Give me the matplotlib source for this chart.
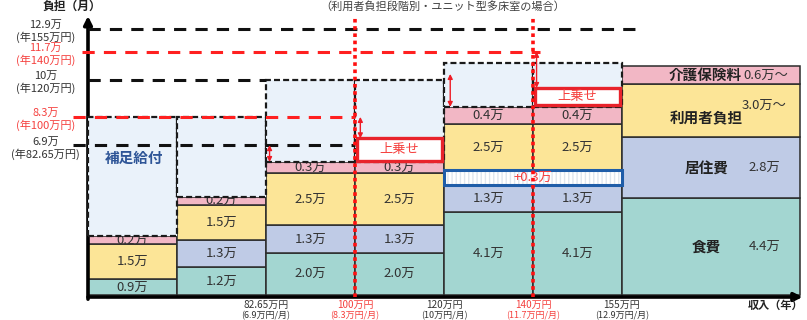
import matplotlib
matplotlib.use("Agg")
import matplotlib.pyplot as plt
from matplotlib.patches import Rectangle, FancyArrowPatch

plt.rcParams['font.family'] = ['Noto Sans CJK JP', 'DejaVu Sans']

# 金額ラベル（月額）
food_labels = ['0.9万', '1.2万', '2.0万', '2.0万', '4.1万', '4.1万', '4.4万']
room_labels = ['', '1.3万', '1.3万', '1.3万', '1.3万', '1.3万', '2.8万']
user_labels = ['1.5万', '1.5万', '2.5万', '2.5万', '2.5万', '2.5万', '3.0万～']
ins_labels = ['0.2万', '0.2万', '0.3万', '0.3万', '0.4万', '0.4万', '0.6万～']
seg_names = ['食費', '居住費', '利用者負担', '介護保険料']

# 図上の高さ（模式図なので見た目から読んだ値）
food_h = [0.73, 1.28, 1.93, 1.93, 3.82, 3.82, 4.46]
room_h = [0, 1.25, 1.29, 1.29, 1.24, 1.24, 2.81]
plus_h = [0, 0, 0, 0, 0.69, 0.69, 0]
user_h = [1.6, 1.6, 2.39, 2.39, 2.12, 2.12, 2.45]
ins_h = [0.4, 0.4, 0.51, 0.51, 0.79, 0.79, 0.83]
uwanose_h = [0, 0, 0, 1.02, 0, 0.8, 0]
hosoku_top = [8.3, 8.3, 10.0, 10.0, 10.78, 10.78, 0]

# 基準線
line_y = [12.35, 11.3, 10.0, 8.3, 7.0]
line_main = ['12.9万', '11.7万', '10万', '8.3万', '6.9万']
line_sub = ['(年155万円)', '(年140万円)', '(年120万円)', '(年100万円)', '(年82.65万円)']
line_red = [False, True, False, True, False]

# 収入の目盛
income_main = ['82.65万円', '100万円', '120万円', '140万円', '155万円']
income_sub = ['(6.9万円/月)', '(8.3万円/月)', '(10万円/月)', '(11.7万円/月)', '(12.9万円/月)']
income_red = [False, True, False, True, False]

edges = [0, 1, 2, 3, 4, 5, 6, 8]
base = 0.1
RED = '#FF2020'
RED_TXT = '#F5413F'
DARK = '#333333'
colors = {'food': '#A3D6D1', 'room': '#BFCBE6', 'user': '#FCE597', 'ins': '#F2B7C5'}

fig = plt.figure(figsize=(8.07, 3.2), dpi=100)
ax = fig.add_axes([0, 0, 1, 1])
ax.set_xlim(-88 / 89, 719 / 89)
ax.set_ylim(-23 / 21.7, 297 / 21.7)
ax.axis('off')

layers = [('food', food_h, food_labels), ('room', room_h, room_labels),
          ('plus', plus_h, None), ('user', user_h, user_labels), ('ins', ins_h, ins_labels)]
tops = []
mids = []
for i in range(7):
    x0, x1 = edges[i], edges[i + 1]
    y = base
    m = []
    for key, hs, labels in layers:
        h = hs[i]
        if h > 0 and key != 'plus':
            ax.add_patch(Rectangle((x0, y), x1 - x0, h, fc=colors[key], ec='#2b2b2b', lw=1.1, zorder=2))
            if i < 6:
                ax.text((x0 + x1) / 2, y + h / 2, labels[i], ha='center', va='center',
                        fontsize=9.5, color=DARK, zorder=3)
        if key != 'plus':
            m.append(y + h / 2)
        y += h
    tops.append(y)
    mids.append(m)

# 一番右の列（基準費用）
x_name = 6.95
x_val = 7.6
ax.text(x_name, mids[6][0], seg_names[0], ha='center', va='center', fontsize=10.5, weight='bold', color='#222', zorder=3)
ax.text(x_val, mids[6][0], food_labels[6], ha='center', va='center', fontsize=9.5, color=DARK, zorder=3)
ax.text(x_name, mids[6][1], seg_names[1], ha='center', va='center', fontsize=10.5, weight='bold', color='#222', zorder=3)
ax.text(x_val, mids[6][1], room_labels[6], ha='center', va='center', fontsize=9.5, color=DARK, zorder=3)
ax.text(x_name, mids[6][2] - 0.35, seg_names[2], ha='center', va='center', fontsize=10.5, weight='bold', color='#222', zorder=3)
ax.text(x_val, mids[6][2] + 0.25, user_labels[6], ha='center', va='center', fontsize=9.5, color=DARK, zorder=3)
ax.text(x_name - 0.02, mids[6][3], seg_names[3], ha='center', va='center', fontsize=10.5, weight='bold', color='#222', zorder=3)
ax.text(x_val + 0.02, mids[6][3], ins_labels[6], ha='center', va='center', fontsize=9.5, color=DARK, zorder=3)

# 補足給付の枠
for i in range(6):
    if hosoku_top[i] > 0:
        ax.add_patch(Rectangle((edges[i], tops[i]), edges[i + 1] - edges[i], hosoku_top[i] - tops[i],
                               fc='#EAF2FA', ec='#1a1a1a', lw=1.6, ls=(0, (2.7, 1.4)), zorder=3.5))
ax.text(0.52, 6.4, '補足給付', ha='center', va='center', fontsize=10.5, weight='bold', color='#2E5597', zorder=4)

# 上乗せ
for i, h in enumerate(uwanose_h):
    if h > 0:
        y0 = tops[i] + 0.07
        ax.add_patch(Rectangle((edges[i] + 0.02, y0), edges[i + 1] - edges[i] - 0.04, h,
                               fc='white', ec='#E8232B', lw=2.4, zorder=6))
        ax.text((edges[i] + edges[i + 1]) / 2, y0 + h / 2, '上乗せ', ha='center', va='center',
                fontsize=9.5, color=RED_TXT, zorder=7)

# +0.3万の枠
idx = [i for i, h in enumerate(plus_h) if h > 0]
px0, px1 = edges[idx[0]], edges[idx[-1] + 1]
py0 = base + food_h[idx[0]] + room_h[idx[0]]
ph = plus_h[idx[0]]
ax.add_patch(Rectangle((px0, py0), px1 - px0, ph, fc='white', ec='#dfe6ee', hatch='||||', lw=0, zorder=5))
ax.add_patch(Rectangle((px0, py0), px1 - px0, ph, fill=False, ec='#1F5DA8', lw=2.2, zorder=6))
ax.text((px0 + px1) / 2, py0 + ph / 2, '+0.3万', ha='center', va='center', fontsize=9.5, color=RED_TXT, zorder=7)

# 基準線と左のラベル
line_x0 = [0, -0.07, 0, -0.17, -0.17]
line_x1 = [6.17, 5.08, edges[2], edges[3], edges[3]]
for y, a, b, red, t1, t2 in zip(line_y, line_x0, line_x1, line_red, line_main, line_sub):
    c = RED if red else '#111111'
    ax.plot([a, b], [y, y], color=c, lw=2.2, ls=(0, (4, 3)), solid_capstyle='butt', zorder=4.5)
    tc = RED_TXT if red else DARK
    ax.text(-0.48, y + 0.17, t1, ha='center', va='center', fontsize=8, color=tc)
    ax.text(-0.48, y - 0.4, t2, ha='center', va='center', fontsize=8, color=tc)

# 赤い点線
for e in (edges[3], edges[5]):
    ax.plot([e, e], [0, 12.86], color='#FF1010', lw=2.6, ls=(0, (1, 1)), zorder=8)

# 矢印
arrow_spec = [(edges[2] + 0.04, line_y[4], tops[2]),
              (edges[3] + 0.06, line_y[3], tops[3] + 0.07 + uwanose_h[3]),
              (edges[4] + 0.07, 10.28, tops[4]),
              (edges[5] + 0.04, line_y[1], tops[5] + 0.07 + uwanose_h[5])]
for x, ya, yb in arrow_spec:
    ax.add_patch(FancyArrowPatch((x, ya), (x, yb), arrowstyle='<|-|>', mutation_scale=7,
                                 color='#EE1C25', lw=1.0, shrinkA=0, shrinkB=0, zorder=9))

# 軸
ax.annotate('', xy=(8.03, 0), xytext=(0, 0),
            arrowprops=dict(arrowstyle='-|>', lw=2.6, color='black', mutation_scale=12, shrinkA=0, shrinkB=0))
ax.annotate('', xy=(0, 12.95), xytext=(0, -0.1),
            arrowprops=dict(arrowstyle='-|>', lw=2.6, color='black', mutation_scale=12, shrinkA=0, shrinkB=0))

for e, t1, t2, red in zip(edges[2:7], income_main, income_sub, income_red):
    tc = RED_TXT if red else DARK
    ax.text(e, -0.37, t1, ha='center', va='center', fontsize=7.2, color=tc)
    ax.text(e, -0.88, t2, ha='center', va='center', fontsize=6.5, color=tc)

ax.text(7.72, -0.37, '収入（年）', ha='center', va='center', fontsize=8, weight='bold', color='#222')
ax.text(-0.18, 13.38, '負担（月）', ha='center', va='center', fontsize=8.5, weight='bold', color='#222')
ax.text(3.99, 13.4, '（利用者負担段階別・ユニット型多床室の場合）', ha='center', va='center',
        fontsize=8, color='#404040')

fig.savefig('out.png', dpi=100)
